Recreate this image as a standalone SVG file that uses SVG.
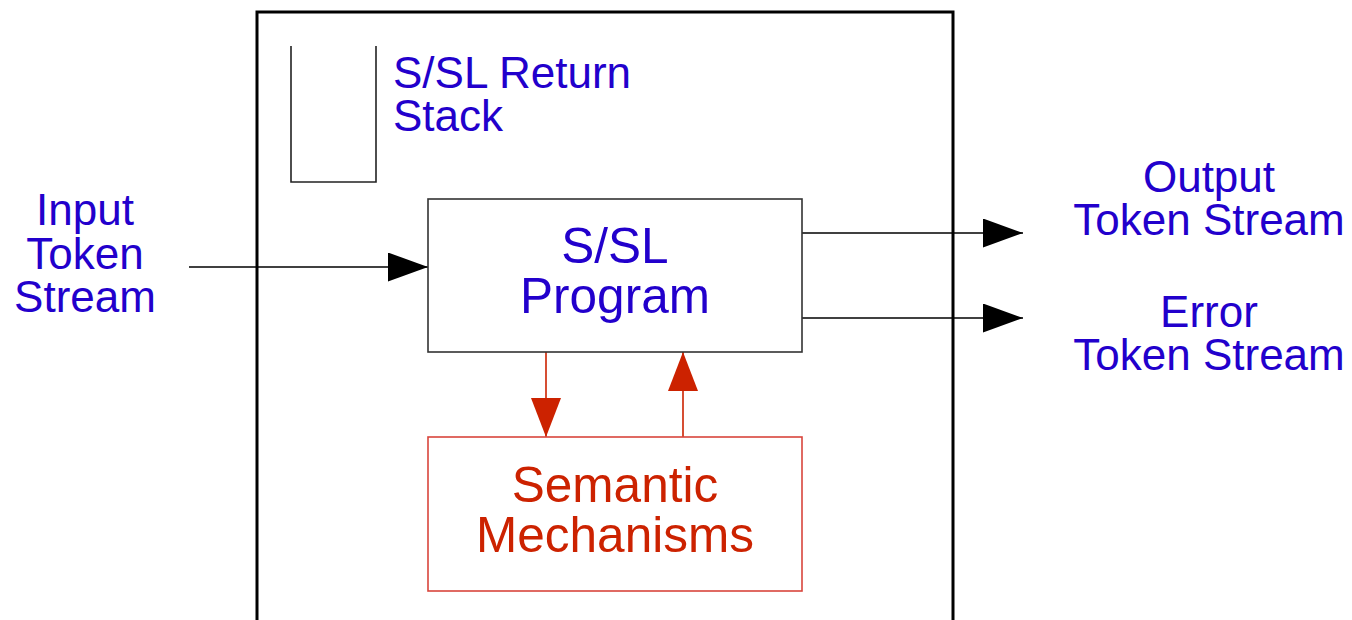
<svg xmlns="http://www.w3.org/2000/svg" width="1352" height="620" viewBox="0 0 1352 620">
<style>
.blue{fill:#2200cc;font-family:"Liberation Sans",Arial,sans-serif;}
.red{fill:#cc2200;font-family:"Liberation Sans",Arial,sans-serif;}
.s42{font-size:44px;}
.s48{font-size:49.5px;}
.mid{text-anchor:middle;}
.blk{stroke:#000;stroke-width:1.6;fill:none;}
.rline{stroke:#cc2200;stroke-width:1.6;fill:none;}
</style>
<defs>
<marker id="ah" markerUnits="userSpaceOnUse" viewBox="0 0 40 29" refX="40" refY="14.5" markerWidth="40" markerHeight="29" orient="auto">
<path d="M0,0 L40,14.5 L0,29 z" fill="#000"/>
</marker>
<marker id="ahr" markerUnits="userSpaceOnUse" viewBox="0 0 39 30" refX="39" refY="15" markerWidth="39" markerHeight="30" orient="auto">
<path d="M0,0 L39,15 L0,30 z" fill="#cc2200"/>
</marker>
</defs>
<rect width="1352" height="620" fill="#fff"/>
<g id="outer-box">
<path d="M257,640 L257,12 L953,12 L953,640" fill="none" stroke="#000" stroke-width="3"/>
</g>
<g id="return-stack">
<path d="M291,46 L291,182 L376,182 L376,46" fill="none" stroke="#222" stroke-width="1.6"/>
<text class="blue s42" x="393" y="88">S/SL Return</text>
<text class="blue s42" x="393" y="131">Stack</text>
</g>
<g id="input-label">
<text class="blue s42 mid" x="85" y="225">Input</text>
<text class="blue s42 mid" x="85" y="269">Token</text>
<text class="blue s42 mid" x="85" y="312">Stream</text>
</g>
<g id="output-label">
<text class="blue s42 mid" x="1209" y="192">Output</text>
<text class="blue s42 mid" x="1209" y="235">Token Stream</text>
</g>
<g id="error-label">
<text class="blue s42 mid" x="1209" y="327">Error</text>
<text class="blue s42 mid" x="1209" y="370">Token Stream</text>
</g>
<g id="connectors">
<line class="blk" x1="189" y1="267" x2="428" y2="267" marker-end="url(#ah)"/>
<line class="blk" x1="802" y1="233" x2="1023" y2="233" marker-end="url(#ah)"/>
<line class="blk" x1="802" y1="318" x2="1023" y2="318" marker-end="url(#ah)"/>
<line class="rline" x1="546" y1="352" x2="546" y2="437" marker-end="url(#ahr)"/>
<line class="rline" x1="683" y1="437" x2="683" y2="352" marker-end="url(#ahr)"/>
</g>
<g id="program">
<rect x="428" y="199" width="374" height="153" fill="none" stroke="#333" stroke-width="1.6"/>
<text class="blue s48 mid" x="615" y="263">S/SL</text>
<text class="blue s48 mid" x="615" y="313">Program</text>
</g>
<g id="semantic">
<rect x="428" y="437" width="374" height="154" fill="none" stroke="#d9453c" stroke-width="1.6"/>
<text class="red s48 mid" x="615" y="502">Semantic</text>
<text class="red s48 mid" x="615" y="552">Mechanisms</text>
</g>
</svg>
